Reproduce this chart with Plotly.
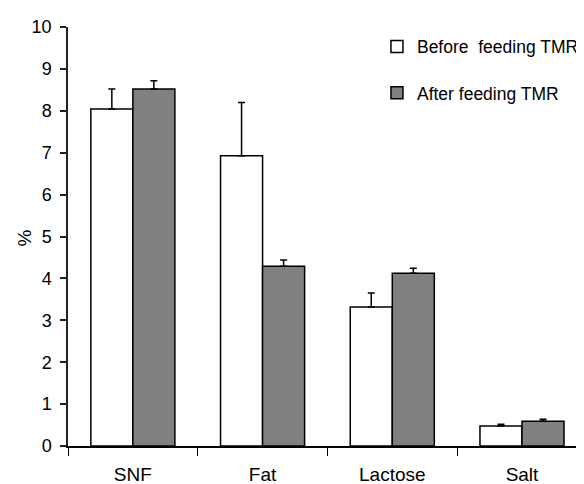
import plotly.graph_objects as go

categories = ["SNF", "Fat", "Lactose", "Salt"]
before_vals = [8.04, 6.93, 3.32, 0.48]
before_err = [0.48, 1.27, 0.33, 0.04]
after_vals = [8.52, 4.29, 4.12, 0.59]
after_err = [0.20, 0.15, 0.12, 0.05]
series_names = ["Before\u00a0 feeding TMR", "After feeding TMR"]
y_ticks = [0, 1, 2, 3, 4, 5, 6, 7, 8, 9, 10]
y_title = "%"

FONT = "Liberation Sans, Arial, sans-serif"

fig = go.Figure()
fig.add_trace(go.Bar(
    x=categories, y=before_vals, name=series_names[0],
    marker=dict(color="white", line=dict(color="black", width=1.5)),
    error_y=dict(type="data", array=before_err, arrayminus=[0]*4, symmetric=False,
                 color="black", thickness=1.5, width=3.5),
    legendgroup="a",
))
fig.add_trace(go.Bar(
    x=categories, y=after_vals, name=series_names[1],
    marker=dict(color="#808080", line=dict(color="black", width=1.5)),
    error_y=dict(type="data", array=after_err, arrayminus=[0]*4, symmetric=False,
                 color="black", thickness=1.5, width=3.5),
    legendgroup="b",
))

# page body adds an 8px offset, so the figure is sized to fit the window
fig.update_layout(
    width=576, height=476,
    margin=dict(l=60, r=0, t=19, b=38, pad=0),
    paper_bgcolor="white", plot_bgcolor="white",
    barmode="group", bargap=0.352, bargroupgap=0,
    font=dict(family=FONT, size=18, color="black"),
    showlegend=True,
    legend=dict(x=0.607, y=0.996, xanchor="left", yanchor="top",
                bgcolor="rgba(0,0,0,0)", font=dict(family=FONT, size=17.5),
                itemwidth=30, tracegroupgap=20.5, traceorder="grouped"),
    annotations=[dict(text=y_title, xref="paper", yref="paper", x=-0.0872, y=0.4964,
                      xanchor="center", yanchor="middle", textangle=-90, showarrow=False,
                      font=dict(family=FONT, size=19, color="black"))],
)
fig.update_xaxes(
    range=[-0.5, 3.424], showline=True, linecolor="black", linewidth=2,
    ticks="outside", tickson="boundaries", ticklen=8, tickcolor="black", tickwidth=1,
    showgrid=False, zeroline=False, tickfont=dict(family=FONT, size=19),
    ticklabelstandoff=10, automargin=False,
)
fig.update_yaxes(
    range=[0, 10], tickvals=y_ticks, showline=True, linecolor="#222222", linewidth=1.5,
    ticks="outside", ticklen=6, tickcolor="#222222", tickwidth=1.5,
    showgrid=False, zeroline=False, tickfont=dict(family=FONT, size=18),
    ticklabelstandoff=5, automargin=False,
)

fig.write_html("out.html")
